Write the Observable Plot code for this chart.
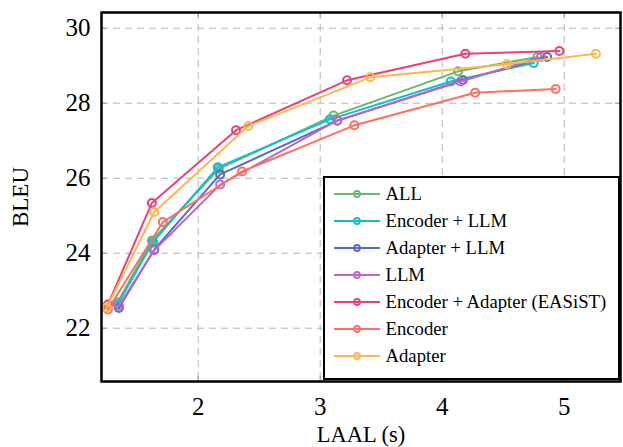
<!DOCTYPE html>
<html><head><meta charset="utf-8">
<script src="https://cdn.jsdelivr.net/npm/d3@7"></script>
<script src="https://cdn.jsdelivr.net/npm/@observablehq/plot@0.6"></script>
<style>
body{margin:0;background:#fff;}
#wrap{position:relative;width:623px;height:447px;font-family:"Liberation Serif","DejaVu Serif",serif;}
#legend{position:absolute;left:323px;top:176px;width:297px;height:204px;box-sizing:border-box;border:2.5px solid #000;background:#fff;padding:3px 0 0 8.5px;}
.row{display:flex;align-items:center;height:26.9px;font-size:18.7px;color:#000;}
.row svg{margin-right:6px;flex:none;}
</style></head><body><div id="wrap"></div>
<script>
const seriesNames = ["ALL","Encoder + LLM","Adapter + LLM","LLM","Encoder + Adapter (EASiST)","Encoder","Adapter"];
const seriesColors = ["#66bb6a","#12bcd4","#5c6bc0","#ba68c8","#ec407a","#ff6f61","#ffb74d"];

const allLaal = [1.34,1.62,2.17,3.11,4.13,4.78];
const allBleu = [22.69,24.34,26.25,27.67,28.85,29.23];
const encLlmLaal = [1.34,1.63,2.16,3.08,4.07,4.75];
const encLlmBleu = [22.64,24.30,26.29,27.57,28.58,29.07];
const adpLlmLaal = [1.35,1.64,2.18,3.14,4.17,4.86];
const adpLlmBleu = [22.54,24.10,26.10,27.53,28.62,29.23];
const llmLaal = [1.35,1.64,2.18,3.14,4.15,4.81];
const llmBleu = [22.60,24.08,25.83,27.54,28.58,29.23];
const easistLaal = [1.26,1.62,2.31,3.22,4.19,4.96];
const easistBleu = [22.63,25.34,27.28,28.61,29.32,29.39];
const encLaal = [1.26,1.71,2.36,3.28,4.27,4.93];
const encBleu = [22.50,24.83,26.18,27.41,28.28,28.38];
const adpLaal = [1.25,1.64,2.41,3.41,4.53,5.26];
const adpBleu = [22.55,25.10,27.39,28.69,29.04,29.32];

const xTicks = [2,3,4,5];
const yTicks = [22,24,26,28,30];
const xDomain = [1.2074,5.4615];
const yDomain = [20.579,30.419];

const seriesX = [allLaal,encLlmLaal,adpLlmLaal,llmLaal,easistLaal,encLaal,adpLaal];
const seriesY = [allBleu,encLlmBleu,adpLlmBleu,llmBleu,easistBleu,encBleu,adpBleu];
const rows = [];
seriesNames.forEach((name,i)=>seriesX[i].forEach((x,j)=>rows.push({series:name,x,y:seriesY[i][j]})));

const W = 623, H = 447, ML = 101, MR = 3, MT = 12, MB = 66;
const FW = W - ML - MR, FH = H - MT - MB, TICK = 5;
const FONT = '"Liberation Serif","DejaVu Serif",serif';

const color = {domain: seriesNames, range: seriesColors};
const gridStyle = {stroke:"#b4b4b4", strokeOpacity:1, strokeWidth:1, strokeDasharray:"7,5"};
const tickStyle = {stroke:"#999", strokeOpacity:1, strokeWidth:1};

const marks = [
  Plot.gridX(xTicks, gridStyle),
  Plot.gridY(yTicks, gridStyle),
  Plot.tickX(xTicks, {x:d=>d, insetTop:FH-TICK, ...tickStyle}),
  Plot.tickX(xTicks, {x:d=>d, insetBottom:FH-TICK, ...tickStyle}),
  Plot.tickY(yTicks, {y:d=>d, insetRight:FW-TICK, ...tickStyle}),
  Plot.tickY(yTicks, {y:d=>d, insetLeft:FW-TICK, ...tickStyle}),
  Plot.axisX(xTicks, {anchor:"bottom", tickSize:0, tickPadding:16, fontSize:25, fontFamily:FONT, tickFormat:d=>String(d), label:null}),
  Plot.axisY(yTicks, {anchor:"left", tickSize:0, tickPadding:11, fontSize:25, fontFamily:FONT, tickFormat:d=>String(d), label:null}),
];
seriesNames.forEach(name=>{
  const d = rows.filter(r=>r.series===name);
  marks.push(Plot.line(d,{x:"x",y:"y",stroke:"series",strokeWidth:2}));
  marks.push(Plot.dot(d,{x:"x",y:"y",stroke:"series",r:4,strokeWidth:2,fill:"none"}));
});
marks.push(Plot.frame({stroke:"#000", strokeWidth:2.5}));
marks.push(Plot.text(["LAAL (s)"],{frameAnchor:"bottom", textAnchor:"middle", lineAnchor:"middle", dy:53, fontSize:22.5, fontFamily:FONT, text:d=>d}));
marks.push(Plot.text(["BLEU"],{frameAnchor:"left", textAnchor:"middle", lineAnchor:"middle", dx:-81, rotate:-90, fontSize:23, fontFamily:FONT, text:d=>d}));

const chart = Plot.plot({
  width:W, height:H,
  marginLeft:ML, marginRight:MR, marginTop:MT, marginBottom:MB,
  style:{fontFamily:FONT, background:"#fff", color:"#000", overflow:"visible"},
  x:{domain:xDomain, label:null},
  y:{domain:yDomain, label:null},
  color,
  marks
});
const wrap = document.getElementById("wrap");
wrap.appendChild(chart);

const legend = document.createElement("div");
legend.id = "legend";
seriesNames.forEach((name,i)=>{
  const row = document.createElement("div");
  row.className = "row";
  const s = d3.create("svg").attr("width",46).attr("height",12);
  s.append("line").attr("x1",0).attr("x2",46).attr("y1",6).attr("y2",6).attr("stroke",seriesColors[i]).attr("stroke-width",2);
  s.append("circle").attr("cx",23).attr("cy",6).attr("r",3).attr("fill","none").attr("stroke",seriesColors[i]).attr("stroke-width",1.8);
  row.appendChild(s.node());
  const t = document.createElement("span");
  t.textContent = name;
  row.appendChild(t);
  legend.appendChild(row);
});
wrap.appendChild(legend);
</script></body></html>
